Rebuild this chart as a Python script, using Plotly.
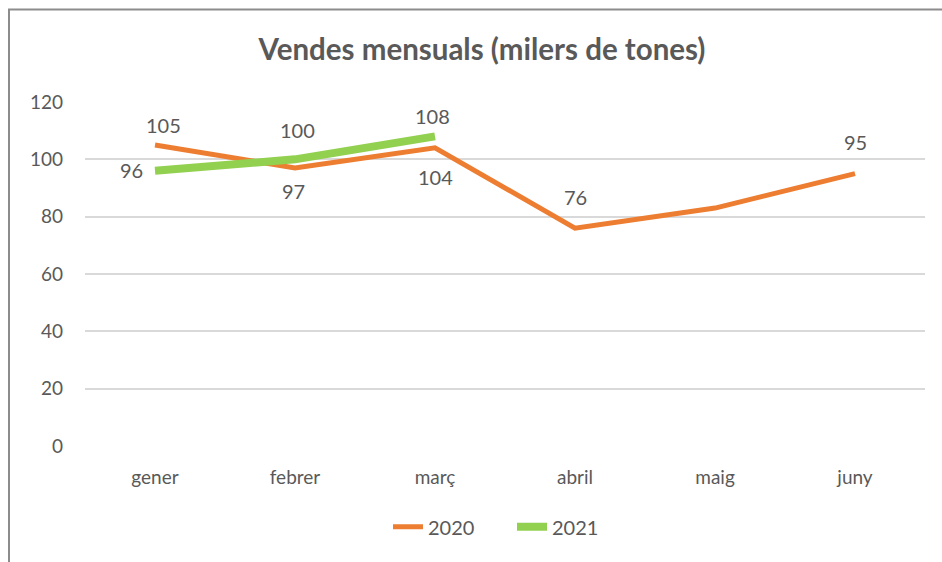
import plotly.graph_objects as go

months = ["gener", "febrer", "març", "abril", "maig", "juny"]
sales_2020 = [105, 97, 104, 76, 83, 95]
sales_2021 = [96, 100, 108]
labels_2020 = ["105", "97", "104", "76", "", "95"]
labels_2021 = ["96", "100", "108"]
y_ticks = [0, 20, 40, 60, 80, 100, 120]

# label placement offsets in pixels (styling only)
shift_2020 = [(8, 20), (-2, -23), (0, -29), (0, 31), (0, 0), (0, 32)]
shift_2021 = [(-24, 1), (2, 29), (-3, 20)]

FONT = "Lato"
GREY = "#595959"

fig = go.Figure()
fig.add_trace(go.Scatter(
    x=months, y=sales_2020, name="2020", mode="lines",
    line=dict(color="#ED7D31", width=5),
))
fig.add_trace(go.Scatter(
    x=months[:len(sales_2021)], y=sales_2021, name="2021", mode="lines",
    line=dict(color="#92D050", width=8),
))

annotations = []
for xs, ys, labs, shifts in [(months, sales_2020, labels_2020, shift_2020),
                             (months, sales_2021, labels_2021, shift_2021)]:
    for m, v, t, (dx, dy) in zip(xs, ys, labs, shifts):
        if not t:
            continue
        annotations.append(dict(x=m, y=v, xref="x", yref="y", text=t, showarrow=False,
                                xanchor="center", yanchor="middle", xshift=dx, yshift=dy,
                                font=dict(family=FONT, size=20, color=GREY)))

fig.update_layout(
    width=942, height=562,
    margin=dict(l=85, r=17, t=102, b=116, autoexpand=False),
    paper_bgcolor="white", plot_bgcolor="white",
    title=dict(text="<b>Vendes mensuals (milers de tones)</b>", x=482 / 942, xanchor="center",
               y=1 - 50 / 562, yanchor="middle",
               font=dict(family=FONT, size=29.5, color=GREY)),
    font=dict(family=FONT, size=19, color=GREY),
    showlegend=True,
    legend=dict(orientation="h", x=(388 - 85) / 840, xanchor="left", y=-0.235, yanchor="middle",
                font=dict(family=FONT, size=20, color=GREY), itemwidth=30,
                entrywidth=79, entrywidthmode="pixels"),
    xaxis=dict(range=[-0.5, 5.5], showgrid=False, showline=False, zeroline=False, ticks="",
               automargin=False,
               tickfont=dict(family=FONT, size=19, color=GREY), ticklabelstandoff=18),
    yaxis=dict(range=[0, 120], tickvals=y_ticks, showgrid=True, gridcolor="#D9D9D9",
               gridwidth=2, zeroline=False, showline=False, ticks="", automargin=False,
               tickfont=dict(family=FONT, size=19, color=GREY), ticklabelstandoff=21),
    annotations=annotations,
    shapes=[dict(type="rect", xref="paper", yref="paper",
                 x0=(9 - 85) / 840, x1=1.1, y0=-0.5, y1=(446 - 9.5) / 344,
                 line=dict(color="#8C8C8C", width=2), fillcolor="rgba(0,0,0,0)", layer="below")],
)

fig.write_html("out.html", config={"displayModeBar": False},
               post_script="document.body.style.margin='0';")
